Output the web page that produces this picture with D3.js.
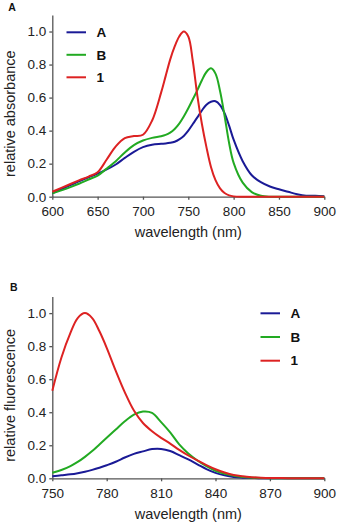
<!DOCTYPE html>
<html>
<head>
<meta charset="utf-8">
<script src="https://cdn.jsdelivr.net/npm/d3@7"></script>
<style>
  body { margin: 0; background: #fff; }
  svg { display: block; font-family: "Liberation Sans", Arial, sans-serif; }
  .axis path, .axis line { stroke: #555; stroke-width: 1.3; }
  .axis text { font-size: 13.5px; fill: #222; }
</style>
</head>
<body>
<svg id="chart" width="339" height="525"></svg>
<script>
// panel A: absorbance
const absWavelength = [600, 610, 620, 630, 640, 650, 660, 670, 680, 690, 700, 710, 720, 725, 730, 735, 740, 745, 750, 755, 760, 765, 770, 775, 780, 785, 790, 795, 800, 810, 820, 830, 840, 850, 860, 870, 880, 890, 900];
const absA = [0.02, 0.045, 0.07, 0.095, 0.118, 0.14, 0.165, 0.195, 0.235, 0.272, 0.30, 0.315, 0.32, 0.322, 0.326, 0.333, 0.347, 0.368, 0.40, 0.44, 0.48, 0.522, 0.557, 0.575, 0.578, 0.555, 0.505, 0.43, 0.345, 0.215, 0.13, 0.088, 0.062, 0.045, 0.03, 0.015, 0.006, 0.006, 0.002];
const absB = [0.02, 0.038, 0.058, 0.08, 0.104, 0.128, 0.17, 0.215, 0.268, 0.312, 0.34, 0.356, 0.366, 0.374, 0.388, 0.41, 0.442, 0.485, 0.535, 0.59, 0.645, 0.705, 0.755, 0.777, 0.745, 0.64, 0.49, 0.325, 0.205, 0.085, 0.028, 0.006, 0, 0, 0, 0, 0, 0, 0];
const abs1 = [0.03, 0.053, 0.077, 0.10, 0.122, 0.148, 0.225, 0.305, 0.355, 0.367, 0.375, 0.46, 0.63, 0.73, 0.83, 0.91, 0.97, 1.0, 0.97, 0.82, 0.61, 0.44, 0.30, 0.18, 0.10, 0.05, 0.022, 0.008, 0.002, 0, 0, 0, 0, 0, 0, 0, 0, 0, 0];
const absTicksX = [600, 650, 700, 750, 800, 850, 900];

// panel B: fluorescence
const fluWavelength = [750, 755, 760, 764, 768, 772, 776, 780, 785, 790, 795, 800, 805, 810, 815, 820, 825, 830, 835, 840, 845, 850, 855, 860, 865, 870, 880, 890, 900];
const fluA = [0.012, 0.018, 0.024, 0.031, 0.04, 0.051, 0.064, 0.079, 0.10, 0.126, 0.148, 0.163, 0.177, 0.178, 0.165, 0.14, 0.114, 0.085, 0.056, 0.033, 0.018, 0.008, 0.004, 0.002, 0, 0, 0, 0, 0];
const fluB = [0.034, 0.05, 0.074, 0.099, 0.13, 0.165, 0.205, 0.245, 0.295, 0.345, 0.385, 0.404, 0.396, 0.34, 0.278, 0.205, 0.15, 0.108, 0.073, 0.045, 0.027, 0.016, 0.008, 0.004, 0.002, 0.001, 0, 0, 0];
const flu1 = [0.53, 0.73, 0.88, 0.97, 1.0, 0.97, 0.89, 0.79, 0.65, 0.52, 0.41, 0.335, 0.285, 0.245, 0.21, 0.172, 0.138, 0.108, 0.08, 0.055, 0.035, 0.02, 0.012, 0.007, 0.004, 0.002, 0.001, 0, 0];
const fluTicksX = [750, 780, 810, 840, 870, 900];

const yTicks = [0, 0.2, 0.4, 0.6, 0.8, 1.0];
const seriesNames = ["A", "B", "1"];
const colors = { "A": "#1a1a96", "B": "#22aa22", "1": "#dd2222" };

const svg = d3.select("#chart");

function drawPanel(opt) {
    const x = d3.scaleLinear().domain(opt.xDomain).range([52.3, 324.3]);
    const y = d3.scaleLinear().domain([0, 1.1]).range([opt.bottom, opt.bottom - 181.7]);

    const g = svg.append("g");

    g.append("g")
        .attr("class", "axis")
        .attr("transform", `translate(0,${opt.bottom})`)
        .call(d3.axisBottom(x).tickValues(opt.ticksX).tickSize(3).tickPadding(7).tickSizeOuter(0));

    g.append("g")
        .attr("class", "axis")
        .attr("transform", "translate(52.3,0)")
        .call(d3.axisLeft(y).tickValues(yTicks).tickSize(3).tickPadding(3).tickSizeOuter(0).tickFormat(d3.format(".1f")));

    const line = d3.line()
        .x((d, i) => x(opt.wl[i]))
        .y(d => y(d))
        .curve(d3.curveCatmullRom.alpha(0.5));

    opt.series.forEach((vals, i) => {
        g.append("path")
            .datum(vals)
            .attr("fill", "none")
            .attr("stroke", colors[seriesNames[i]])
            .attr("stroke-width", 2)
            .attr("d", line);
    });

    // legend
    seriesNames.forEach((name, i) => {
        const ly = opt.legendY + i * opt.legendStep;
        g.append("line")
            .attr("x1", opt.legendX).attr("x2", opt.legendX + 19.5)
            .attr("y1", ly).attr("y2", ly)
            .attr("stroke", colors[name])
            .attr("stroke-width", 2);
        g.append("text")
            .attr("x", opt.legendX + 30)
            .attr("y", ly + 4.7)
            .attr("font-size", "13.5px")
            .attr("font-weight", "bold")
            .attr("fill", "#111")
            .text(name);
    });

    // axis titles
    g.append("text")
        .attr("x", 188.3)
        .attr("y", opt.bottom + 40.5)
        .attr("text-anchor", "middle")
        .attr("font-size", "14.5px")
        .attr("fill", "#222")
        .text("wavelength (nm)");

    g.append("text")
        .attr("transform", `translate(14.5,${opt.bottom - 83}) rotate(-90)`)
        .attr("text-anchor", "middle")
        .attr("font-size", "14.5px")
        .attr("fill", "#222")
        .text(opt.yLabel);

    g.append("text")
        .attr("x", opt.tagX)
        .attr("y", opt.tagY)
        .attr("font-size", "10.5px")
        .attr("font-weight", "bold")
        .attr("fill", "#111")
        .text(opt.tag);
}

drawPanel({
    xDomain: [600, 900], ticksX: absTicksX, bottom: 196.7,
    wl: absWavelength, series: [absA, absB, abs1],
    legendX: 66.5, legendY: 32.3, legendStep: 22.5,
    yLabel: "relative absorbance", tag: "A", tagX: 8.3, tagY: 10.8
});

drawPanel({
    xDomain: [750, 900], ticksX: fluTicksX, bottom: 478.3,
    wl: fluWavelength, series: [fluA, fluB, flu1],
    legendX: 260.5, legendY: 313.3, legendStep: 23.7,
    yLabel: "relative fluorescence", tag: "B", tagX: 10, tagY: 290.8
});
</script>
</body>
</html>
